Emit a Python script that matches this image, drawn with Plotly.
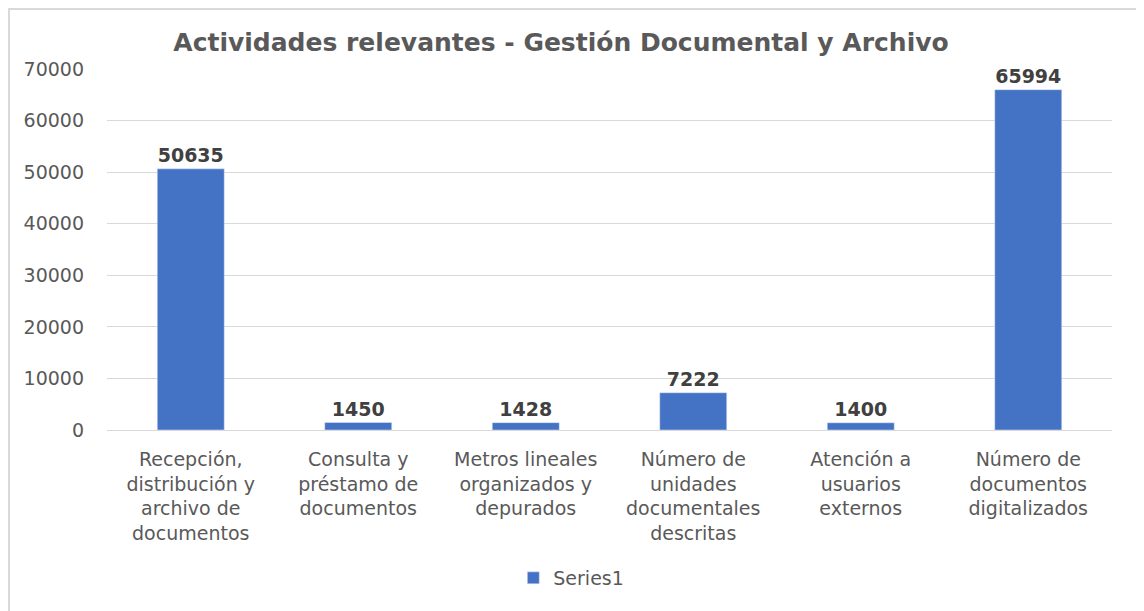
import plotly.graph_objects as go

categories = [
    "Recepción,<br>distribución y<br>archivo de<br>documentos",
    "Consulta y<br>préstamo de<br>documentos",
    "Metros lineales<br>organizados y<br>depurados",
    "Número de<br>unidades<br>documentales<br>descritas",
    "Atención a<br>usuarios<br>externos",
    "Número de<br>documentos<br>digitalizados",
]
values = [50635, 1450, 1428, 7222, 1400, 65994]
series_name = "Series1"
title_text = "Actividades relevantes - Gestión Documental y Archivo"
y_ticks = [0, 10000, 20000, 30000, 40000, 50000, 60000, 70000]
y_tick_labels = ["0", "10000", "20000", "30000", "40000", "50000", "60000", "70000"]

FONT = "DejaVu Sans"
# page body has an 8px margin; figure coordinates are offset by it
W, H = 1136, 603
ML, MR, MT, MB = 99, 32, 61, 181
PW = W - ML - MR
PH = H - MT - MB

fig = go.Figure()
fig.add_trace(go.Bar(
    x=categories,
    y=values,
    name=series_name,
    marker=dict(color="#4472C4"),
    text=[str(v) for v in values],
    textposition="outside",
    cliponaxis=False,
    textfont=dict(family=FONT, size=19, color="#404040", weight="bold"),
    showlegend=True,
))

fig.update_layout(
    width=W, height=H,
    paper_bgcolor="white", plot_bgcolor="white",
    margin=dict(l=ML, r=MR, t=MT, b=MB),
    bargap=0.6,
    title=dict(text="<b>" + title_text + "</b>", x=553 / W, xanchor="center",
               y=1 - 34 / H, yanchor="middle",
               font=dict(family=FONT, size=25, color="#595959")),
    font=dict(family=FONT, size=19, color="#595959"),
    xaxis=dict(showgrid=False, showline=True, linecolor="#d9d9d9", linewidth=1,
               ticks="", ticklabelstandoff=12,
               tickfont=dict(family=FONT, size=19, color="#595959")),
    yaxis=dict(range=[0, 70000], tickvals=y_ticks, ticktext=y_tick_labels,
               showgrid=True, gridcolor="#d9d9d9",
               gridwidth=1, zeroline=False, showline=False, ticks="",
               tickfont=dict(family=FONT, size=19, color="#595959"), ticklabelstandoff=22),
    legend=dict(orientation="h", x=0.462, xanchor="center", y=-148 / PH, yanchor="middle",
                font=dict(family=FONT, size=19, color="#595959")),
    shapes=[
        dict(type="line", xref="paper", yref="paper", x0=-(ML - 1) / PW, x1=1 + MR / PW,
             y0=1 + (MT - 1) / PH, y1=1 + (MT - 1) / PH,
             line=dict(color="#d9d9d9", width=2)),
        dict(type="line", xref="paper", yref="paper", x0=-(ML - 1) / PW, x1=-(ML - 1) / PW,
             y0=1 + MT / PH, y1=-MB / PH,
             line=dict(color="#d9d9d9", width=2)),
    ],
)

fig.write_html("out.html")
